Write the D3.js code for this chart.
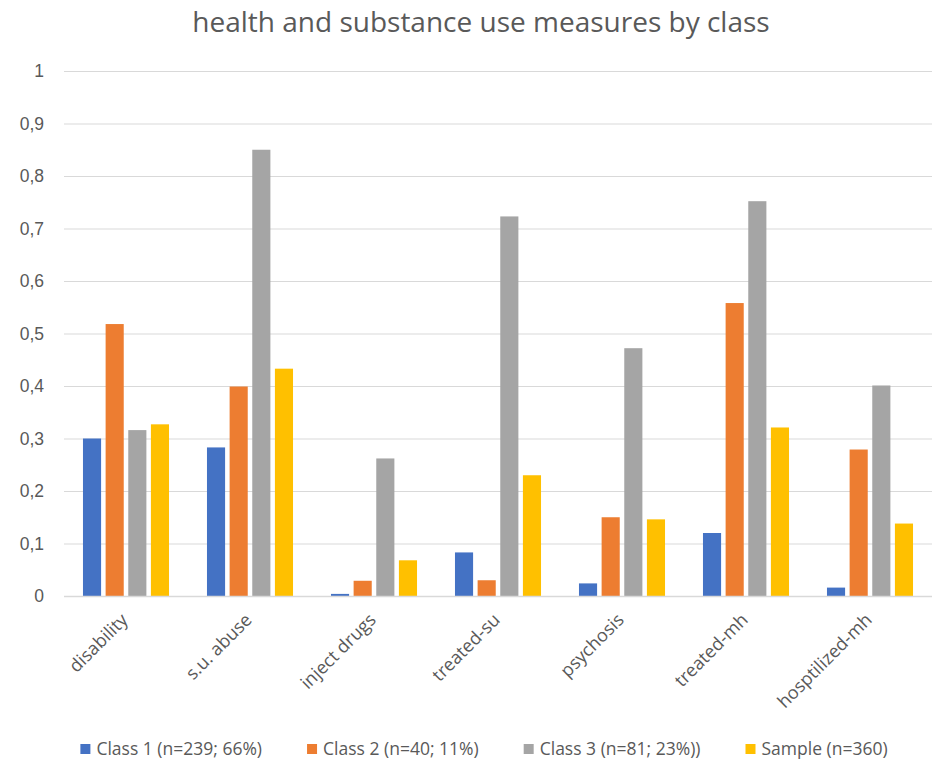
<!DOCTYPE html>
<html>
<head>
<meta charset="utf-8">
<script src="https://cdn.jsdelivr.net/npm/d3@7"></script>
<style>
  html, body { margin: 0; padding: 0; background: #fff; }
  svg { display: block; font-family: "Open Sans", "Noto Sans", sans-serif; }
</style>
</head>
<body>
<svg id="chart" width="932" height="764"></svg>
<script>
// Measures (share of each class)
const categories = ["disability", "s.u. abuse", "inject drugs", "treated-su", "psychosis", "treated-mh", "hosptilized-mh"];
const seriesNames = ["Class 1 (n=239; 66%)", "Class 2 (n=40; 11%)", "Class 3 (n=81; 23%))", "Sample (n=360)"];
const seriesColors = ["#4472C4", "#ED7D31", "#A5A5A5", "#FFC000"];
const class1 = [0.300, 0.283, 0.004, 0.083, 0.024, 0.120, 0.016];
const class2 = [0.518, 0.399, 0.029, 0.030, 0.150, 0.558, 0.279];
const class3 = [0.316, 0.850, 0.262, 0.723, 0.472, 0.752, 0.401];
const sample = [0.327, 0.433, 0.068, 0.230, 0.146, 0.321, 0.138];
const yTicks = [0, 0.1, 0.2, 0.3, 0.4, 0.5, 0.6, 0.7, 0.8, 0.9, 1];
const titleText = "health and substance use measures by class";

const seriesValues = [class1, class2, class3, sample];

const svg = d3.select("#chart");
const W = 932, H = 764;
const margin = { left: 64, right: 0, top: 71, bottom: 168 };
const plotBottom = H - margin.bottom;
const textColor = "#595959";
const gridColor = "#D9D9D9";

const x = d3.scaleBand().domain(categories).range([margin.left, W - margin.right]).padding(0);
const inner = d3.scaleBand().domain(d3.range(seriesNames.length))
  .range([x.bandwidth() * 0.153, x.bandwidth() * 0.847]).paddingInner(0.2);
const y = d3.scaleLinear().domain([0, 1]).range([plotBottom, margin.top]);

// Title
svg.append("text")
  .attr("x", 481).attr("y", 32)
  .attr("text-anchor", "middle")
  .attr("fill", textColor)
  .style("font-size", "28px")
  .text(titleText);

// Gridlines and value axis labels
const yAxis = d3.axisLeft(y).tickValues(yTicks)
  .tickSize(-(W - margin.left - margin.right))
  .tickFormat(d => d3.format("~g")(d).replace(".", ","));
const gY = svg.append("g").attr("transform", `translate(${margin.left},0)`).call(yAxis);
gY.select(".domain").remove();
gY.selectAll(".tick line").attr("stroke", gridColor).attr("stroke-width", 1);
gY.selectAll(".tick text")
  .attr("x", -20)
  .attr("fill", textColor)
  .style("font-size", "17.5px");

// Bars
const groups = svg.append("g").selectAll("g")
  .data(categories)
  .join("g")
  .attr("transform", d => `translate(${x(d)},0)`);

groups.selectAll("rect")
  .data((c, i) => seriesValues.map((vals, s) => ({ s, v: vals[i] })))
  .join("rect")
  .attr("x", d => inner(d.s))
  .attr("width", inner.bandwidth())
  .attr("y", d => y(d.v))
  .attr("height", d => plotBottom - y(d.v))
  .attr("fill", d => seriesColors[d.s]);

// Baseline
svg.append("line")
  .attr("x1", margin.left).attr("x2", W - margin.right)
  .attr("y1", plotBottom + 0.5).attr("y2", plotBottom + 0.5)
  .attr("stroke", gridColor).attr("stroke-width", 1.5);

// Category labels, rotated
const xAxis = svg.append("g");
xAxis.selectAll("text")
  .data(categories)
  .join("text")
  .attr("transform", d => `translate(${x(d) + x.bandwidth() / 2 + 3},${plotBottom + 25}) rotate(-45)`)
  .attr("text-anchor", "end")
  .attr("fill", textColor)
  .style("font-size", "18px")
  .text(d => d);

// Legend
const legend = svg.append("g");
const items = legend.selectAll("g").data(seriesNames).join("g");
items.append("rect")
  .attr("width", 10).attr("height", 10)
  .attr("y", -11)
  .attr("fill", (d, i) => seriesColors[i]);
items.append("text")
  .attr("x", 16).attr("y", 0)
  .attr("fill", textColor)
  .style("font-size", "17.5px")
  .text(d => d);
const widths = [];
items.each(function () { widths.push(this.getBBox().width); });
const gap = 45;
const total = d3.sum(widths) + gap * (widths.length - 1);
let cursor = 484 - total / 2;
items.attr("transform", (d, i) => {
  const t = `translate(${cursor},755)`;
  cursor += widths[i] + gap;
  return t;
});
</script>
</body>
</html>
